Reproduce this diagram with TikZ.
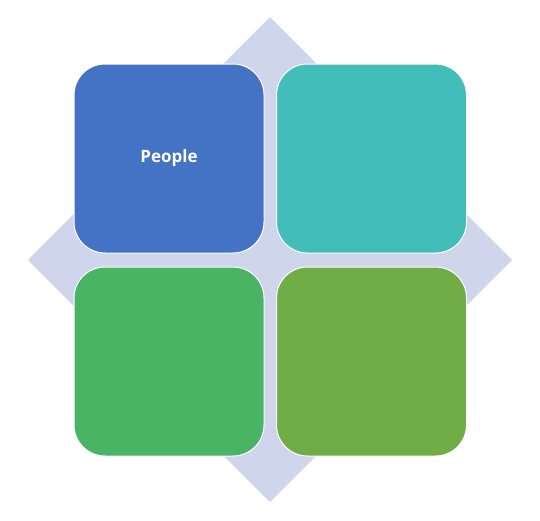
\documentclass[tikz,border=0pt]{standalone}
\usepackage{fontspec}
\setmainfont{Open Sans}
\definecolor{diam}{HTML}{CFD5EA}
\definecolor{cblue}{HTML}{4472C4}
\definecolor{cteal}{HTML}{43BDB9}
\definecolor{cgreen}{HTML}{48B464}
\definecolor{colive}{HTML}{70AD47}
\begin{document}
\begin{tikzpicture}[x=1pt,y=-1pt,
  tile/.style={draw=white,line width=1pt,rounded corners=31pt,minimum width=190pt,minimum height=189pt,inner sep=0pt,text=white,font=\bfseries\fontsize{17}{20}\selectfont}]
\useasboundingbox (0,0) rectangle (540,520);
\fill[diam] (270,17) coordinate (dt) -- (512,260) coordinate (dr) -- (270,502) coordinate (db) -- (28,260) coordinate (dl) -- cycle;
\node[tile,fill=cblue] (people) at (169,158.5) {People};
\node[tile,fill=cteal] (tr) at (371.5,158.5) {};
\node[tile,fill=cgreen] (bl) at (169,361.5) {};
\node[tile,fill=colive] (br) at (371.5,361.5) {};
\end{tikzpicture}
\end{document}
